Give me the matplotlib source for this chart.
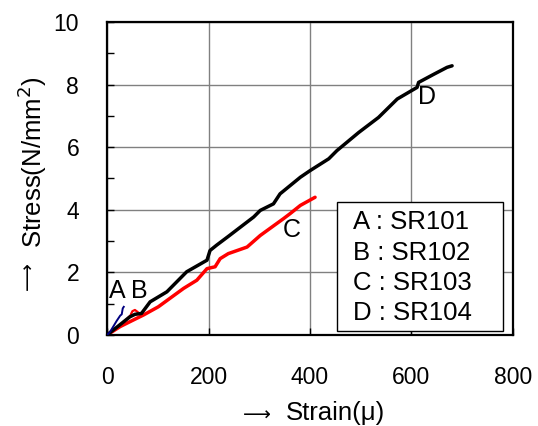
import matplotlib
matplotlib.use("Agg")
import matplotlib.pyplot as plt
from matplotlib.ticker import MultipleLocator
from matplotlib.patches import Rectangle

plt.rcParams['font.family'] = ['Liberation Sans', 'DejaVu Sans']

# Data (strain in micro, stress in N/mm^2)
a_strain = [0, 6, 19, 26, 29, 31, 33]
a_stress = [0, 0.1, 0.45, 0.62, 0.66, 0.85, 0.9]

b_strain = [0, 25, 46, 50, 55, 60]
b_stress = [0, 0.28, 0.62, 0.76, 0.8, 0.74]

c_strain = [0, 26, 52, 72, 101, 151, 177, 197, 213, 223, 239, 276, 302, 348, 361, 381, 410]
c_stress = [0, 0.27, 0.48, 0.64, 0.9, 1.49, 1.75, 2.12, 2.18, 2.44, 2.6, 2.81, 3.18, 3.72, 3.88, 4.14, 4.4]

d_strain = [0, 45, 55, 68, 85, 118, 157, 197, 203, 216, 239, 289, 302, 328, 341, 381, 400,
            437, 453, 496, 535, 572, 611, 614, 644, 670, 680]
d_stress = [0, 0.58, 0.66, 0.69, 1.06, 1.38, 2.02, 2.39, 2.7, 2.87, 3.15, 3.77, 3.98, 4.19, 4.51,
            5.04, 5.25, 5.63, 5.89, 6.47, 6.95, 7.54, 7.91, 8.07, 8.33, 8.55, 8.6]

legend_lines = ["A : SR101", "B : SR102", "C : SR103", "D : SR104"]
x_ticks = [0, 200, 400, 600, 800]
y_ticks = [0, 2, 4, 6, 8, 10]

fig = plt.figure(figsize=(5.38, 4.26), dpi=100)
ax = fig.add_axes([0.1989, 0.2136, 0.7546, 0.7348])

ax.plot(d_strain, d_stress, color='black', lw=2.5, solid_capstyle='round', zorder=3)
ax.plot(c_strain, c_stress, color='#ff0000', lw=2.5, solid_capstyle='round', zorder=2)
ax.plot(b_strain, b_stress, color='#ff0000', lw=1.6, zorder=2)
ax.plot(a_strain, a_stress, color='#000080', lw=1.4, zorder=4)

ax.set_xlim(0, 800)
ax.set_ylim(0, 10)
ax.set_xticks(x_ticks)
ax.set_yticks(y_ticks)
ax.yaxis.set_minor_locator(MultipleLocator(1))
ax.grid(True, which='major', color='#808080', lw=1.0)
ax.set_axisbelow(True)
ax.tick_params(which='both', direction='in', labelsize=16.5, color='black')
ax.tick_params(which='major', length=5, width=1)
ax.tick_params(which='minor', length=5, width=1)
ax.tick_params(axis='x', pad=22)
ax.tick_params(axis='y', pad=20)
for s in ax.spines.values():
    s.set_linewidth(1.6)

# axis labels (long arrow drawn separately)
fig.text(257 / 538, 1 - 413 / 426, '⟶', fontsize=14, family=['DejaVu Sans'],
         ha='center', va='center_baseline')
fig.text(335 / 538, 1 - 413 / 426, 'Strain(μ)', fontsize=18.5, ha='center', va='center')
fig.text(28 / 538, 1 - 276 / 426, '⟶', fontsize=14, family=['DejaVu Sans'],
         ha='center', va='center', rotation=90)
fig.text(32 / 538, 1 - 162 / 426, 'Stress(N/mm$^2$)', fontsize=18.5, ha='center',
         va='center', rotation=90)

ax.text(20.5, 1.41, 'A', fontsize=18, ha='center', va='center', zorder=5)
ax.text(64, 1.41, 'B', fontsize=18, ha='center', va='center', zorder=5)
ax.text(365, 3.35, 'C', fontsize=18, ha='center', va='center', zorder=5)
ax.text(630, 7.59, 'D', fontsize=18, ha='center', va='center', zorder=5)

# legend-like box
ax.add_patch(Rectangle((0.5665, 0.0128), 0.975 - 0.5665, 0.425 - 0.0128, transform=ax.transAxes,
                       fc='white', ec='black', lw=1.0, zorder=6))
for yb, line in zip([0.3377, 0.2396, 0.1438, 0.0479], legend_lines):
    ax.text(0.606, yb, line, transform=ax.transAxes, fontsize=18.5, ha='left',
            va='baseline', zorder=7)

fig.savefig('out.png', dpi=100)
